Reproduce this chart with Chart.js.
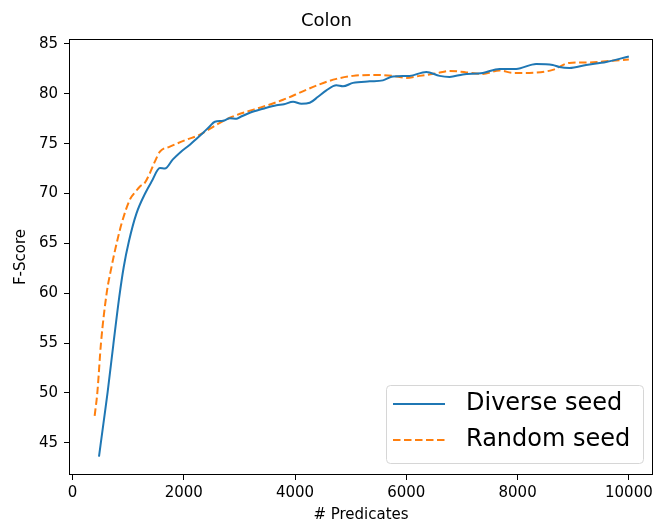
<!DOCTYPE html>
<html>
<head>
<meta charset="utf-8">
<script src="https://cdn.jsdelivr.net/npm/chart.js@4.4.0/dist/chart.umd.min.js"></script>
<style>
    body { margin: 0; background: #fff; }
    canvas { display: block; }
</style>
</head>
<body>
<canvas id="colonChart" width="656" height="525"></canvas>
<script>
const diverseX = [476, 555, 632, 733, 840, 920, 1014, 1150, 1314, 1422, 1571, 1661, 1800, 1930,
    2110, 2230, 2349, 2460, 2558, 2707, 2828, 2948, 3007, 3187, 3426, 3666, 3800, 3965, 4114, 4264, 4413,
    4563, 4743, 4862, 5042, 5341, 5580, 5760, 6059, 6359, 6598, 6777, 7016, 7375, 7675, 7975, 8334, 8632,
    8752, 8932, 9232, 9591, 10000];
const diverseF = [43.6, 46.9, 50.1, 54.8, 59.6, 62.6, 65.2, 68.0, 70.1, 71.2, 72.55, 72.5, 73.4, 74.1,
    74.9, 75.5, 76.1, 76.7, 77.2, 77.3, 77.55, 77.5, 77.65, 78.1, 78.5, 78.85, 78.95, 79.2, 79.0, 79.1, 79.7,
    80.35, 80.85, 80.75, 81.1, 81.25, 81.35, 81.75, 81.8, 82.2, 81.8, 81.7, 81.95, 82.1, 82.5, 82.5, 83.0, 82.9,
    82.7, 82.6, 82.9, 83.2, 83.75];

const randomX = [398, 446, 512, 614, 700, 793, 883, 1032, 1122, 1212, 1302, 1391, 1480, 1571, 1750, 2050,
    2289, 2589, 2828, 3127, 3366, 3785, 4140, 4440, 4743, 5042, 5400, 5760, 6000, 6240, 6539, 6777, 7077,
    7375, 7675, 7914, 8214, 8632, 8932, 9291, 9650, 10000];
const randomF = [47.7, 50.0, 55.0, 60.0, 62.6, 65.0, 67.0, 69.4, 70.1, 70.7, 71.1, 72.05, 73.2, 74.2, 74.7, 75.4,
    75.9, 76.9, 77.6, 78.2, 78.6, 79.4, 80.25, 80.95, 81.5, 81.8, 81.9, 81.8, 81.6, 81.8, 82.05, 82.3, 82.15,
    82.0, 82.35, 82.1, 82.1, 82.4, 83.1, 83.15, 83.3, 83.45];

const xTicks = [0, 2000, 4000, 6000, 8000, 10000];
const yTicks = [45, 50, 55, 60, 65, 70, 75, 80, 85];

const toPoints = (xs, ys) => xs.map((x, i) => ({ x: x, y: ys[i] }));

const fontName = "'DejaVu Sans', sans-serif";

// frame on all four sides, like matplotlib spines
const framePlugin = {
    id: "frame",
    afterDatasetsDraw: (chart) => {
        const a = chart.chartArea;
        const ctx = chart.ctx;
        ctx.save();
        ctx.strokeStyle = "#000";
        ctx.lineWidth = 1;
        ctx.strokeRect(Math.round(a.left) + 0.5, Math.round(a.top) + 0.5,
            Math.round(a.right - a.left) - 1, Math.round(a.bottom - a.top) - 1);
        ctx.restore();
    }
};

// legend box in the lower right corner of the plot
const legendPlugin = {
    id: "boxLegend",
    afterDraw: (chart) => {
        const ctx = chart.ctx;
        const x0 = 386, y0 = 385, w = 257, h = 78, r = 4;
        ctx.save();
        ctx.beginPath();
        ctx.roundRect(x0 + 0.5, y0 + 0.5, w, h, r);
        ctx.fillStyle = "rgba(255,255,255,0.8)";
        ctx.fill();
        ctx.strokeStyle = "#d6d6d6";
        ctx.lineWidth = 1;
        ctx.stroke();
        chart.data.datasets.forEach((ds, i) => {
            const y = 404 + i * 36;
            ctx.beginPath();
            ctx.setLineDash(ds.borderDash || []);
            ctx.strokeStyle = ds.borderColor;
            ctx.lineWidth = ds.borderWidth;
            ctx.moveTo(393, y);
            ctx.lineTo(445, y);
            ctx.stroke();
            ctx.setLineDash([]);
            ctx.fillStyle = "#000";
            ctx.font = "24px " + fontName;
            ctx.textBaseline = "middle";
            ctx.fillText(ds.label, 466, y);
        });
        ctx.restore();
    }
};

new Chart(document.getElementById("colonChart"), {
    type: "line",
    data: {
        datasets: [{
            label: "Diverse seed",
            data: toPoints(diverseX, diverseF),
            borderColor: "#1f77b4",
            borderWidth: 2,
            pointRadius: 0,
            cubicInterpolationMode: "monotone",
            fill: false
        }, {
            label: "Random seed",
            data: toPoints(randomX, randomF),
            borderColor: "#ff7f0e",
            borderWidth: 2,
            borderDash: [7.5, 3.5],
            pointRadius: 0,
            cubicInterpolationMode: "monotone",
            fill: false
        }]
    },
    options: {
        responsive: false,
        animation: false,
        events: [],
        layout: { padding: { left: 0, right: 3, top: 0, bottom: 0 } },
        plugins: {
            legend: { display: false },
            tooltip: { enabled: false },
            title: {
                display: true,
                text: "Colon",
                color: "#000",
                font: { family: fontName, size: 18, weight: "normal", lineHeight: 1.2 },
                padding: { top: 11, bottom: 6.4 }
            }
        },
        scales: {
            x: {
                type: "linear",
                min: -63,
                max: 10434,
                afterBuildTicks: (scale) => { scale.ticks = xTicks.map(v => ({ value: v })); },
                afterFit: (scale) => { scale.height = 50; scale.paddingLeft = 0; scale.paddingRight = 0; },
                grid: { display: true, drawOnChartArea: false, drawTicks: true, tickLength: 5, color: "#000" },
                border: { display: false },
                ticks: {
                    color: "#000",
                    padding: 4,
                    maxRotation: 0,
                    autoSkip: false,
                    font: { family: fontName, size: 15 },
                    callback: (v) => String(v)
                },
                title: {
                    display: true,
                    text: "# Predicates",
                    color: "#000",
                    font: { family: fontName, size: 15 },
                    padding: { top: 0, bottom: 1 }
                }
            },
            y: {
                min: 41.76,
                max: 85.5,
                afterBuildTicks: (scale) => { scale.ticks = yTicks.map(v => ({ value: v })); },
                afterFit: (scale) => { scale.width = 69; scale.paddingTop = 0; scale.paddingBottom = 0; },
                grid: { display: true, drawOnChartArea: false, drawTicks: true, tickLength: 5, color: "#000" },
                border: { display: false },
                ticks: {
                    color: "#000",
                    padding: 6,
                    autoSkip: false,
                    font: { family: fontName, size: 15 },
                    callback: (v) => String(v)
                },
                title: {
                    display: true,
                    text: "F-Score",
                    color: "#000",
                    font: { family: fontName, size: 15 },
                    padding: { top: 12, bottom: 0 }
                }
            }
        }
    },
    plugins: [framePlugin, legendPlugin]
});
</script>
</body>
</html>
